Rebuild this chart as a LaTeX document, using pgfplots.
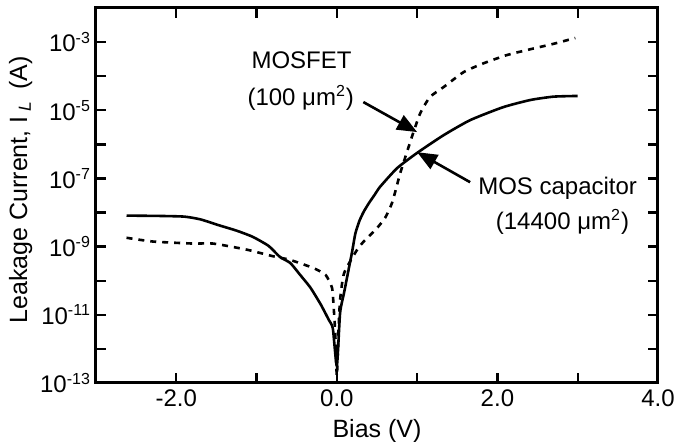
\documentclass[border=0pt]{standalone}
\usepackage{fontspec}
\setmainfont{Liberation Sans}
\usepackage{pgfplots}
\pgfplotsset{compat=1.18}
\usetikzlibrary{arrows.meta}

\begin{document}
\begin{tikzpicture}
\useasboundingbox (-48pt,-29.5pt) rectangle (295.5pt,191.5pt);
\begin{axis}[
  at={(0,0)}, anchor=south west,
  scale only axis, width=281pt, height=187.5pt,
  xmin=-3, xmax=4, ymode=log, ymin=1e-13, ymax=1e-2,
  xtick={-2,0,2,4}, xticklabels={-2.0,0.0,2.0,4.0},
  minor xtick={-1,1,3},
  ytick={1e-13,1e-11,1e-9,1e-7,1e-5,1e-3},
  yticklabels={10\textsuperscript{-13},10\textsuperscript{-11},10\textsuperscript{-9},10\textsuperscript{-7},10\textsuperscript{-5},10\textsuperscript{-3}},
  minor ytick={1e-12,1e-10,1e-8,1e-6,1e-4},
  xtick pos=both, ytick pos=both,
  tick align=inside, major tick length=5pt, minor tick length=5pt,
  every tick/.style={line width=1.2pt, black},
  axis line style={line width=1.5pt},
  tick label style={font=\fontsize{12}{14}\selectfont},
  label style={font=\fontsize{12.5}{14}\selectfont},
  yticklabel style={xshift=1pt},
  xlabel={Bias (V)},
  ylabel={Leakage Current, I\hspace{2.5pt}\textsubscript{\textit{L}}\hspace{2pt} (A)},
  xlabel style={at={(axis description cs:0.5,-0.128)}, anchor=center},
  ylabel style={at={(axis description cs:-0.134,0.515)}, anchor=center},
  clip=false,
]
% MOS capacitor (14400 um^2)
\addplot[line width=1.3pt, black, smooth, tension=0.35] coordinates {
(-2.62,8.13e-9) (-2.2,7.94e-9) (-1.9,7.59e-9) (-1.7,6.31e-9) (-1.46,4.17e-9)
(-1.25,2.95e-9) (-1.05,1.95e-9) (-0.85,1.05e-9) (-0.71,5.0e-10) (-0.58,3.31e-10)
(-0.46,1.51e-10) (-0.33,6.31e-11) (-0.2,2.0e-11) (-0.1,7.08e-12) (-0.05,3.98e-12)
(0.0,3.16e-13) (0.04,1.12e-11) (0.09,4.47e-11) (0.14,1.78e-10) (0.19,7.08e-10)
(0.23,2.40e-9) (0.28,5.62e-9) (0.334,1.05e-8) (0.40,1.9e-8) (0.47,3.3e-8) (0.54,5.75e-8)
(0.75,2.0e-7) (1.0,5.62e-7) (1.33,1.86e-6) (1.66,5.13e-6) (2.07,1.23e-5)
(2.41,2.0e-5) (2.7,2.51e-5) (3.0,2.63e-5)};
% MOSFET (100 um^2)
\addplot[line width=1.3pt, black, dash pattern=on 3pt off 3pt, smooth, tension=0.35] coordinates {
(-2.62,1.82e-9) (-2.29,1.41e-9) (-1.79,1.23e-9) (-1.54,1.23e-9) (-1.12,8.13e-10)
(-0.80,5.25e-10) (-0.58,4.07e-10) (-0.29,2.34e-10) (-0.14,1.48e-10) (-0.06,6.17e-11)
(-0.04,1.70e-11) (-0.02,2.95e-12) (0.0,1.58e-13) (0.02,3.16e-12) (0.04,2.69e-11)
(0.09,1.66e-10) (0.25,7.94e-10) (0.35,1.55e-9) (0.48,3.09e-9) (0.60,6.92e-9)
(0.69,2.0e-8) (0.79,1.45e-7) (0.87,5.62e-7) (0.95,2.14e-6) (1.04,8.32e-6)
(1.16,2.45e-5) (1.33,4.79e-5) (1.58,1.32e-4) (1.83,2.40e-4) (2.12,4.17e-4)
(2.41,6.17e-4) (2.70,8.91e-4) (2.97,1.32e-3)};
\node[font=\fontsize{12}{14}\selectfont] at (axis cs:-0.44,2.95e-4) {MOSFET};
\node[font=\fontsize{12}{14}\selectfont] at (axis cs:-0.45,2.3e-5) {(100 μm\textsuperscript{2})};
\node[font=\fontsize{12}{14}\selectfont] at (axis cs:2.75,5.25e-8) {MOS capacitor};
\node[font=\fontsize{12}{14}\selectfont] at (axis cs:2.81,5.25e-9) {(14400 μm\textsuperscript{2})};
\draw[line width=1.3pt, -{Triangle[length=10pt,width=8pt]}] (axis cs:0.33,1.74e-5) -- (axis cs:1.0,2.29e-6);
\draw[line width=1.3pt, -{Triangle[length=10pt,width=8pt]}] (axis cs:1.66,7.76e-8) -- (axis cs:1.0,5.89e-7);
\end{axis}
\end{tikzpicture}
\end{document}
